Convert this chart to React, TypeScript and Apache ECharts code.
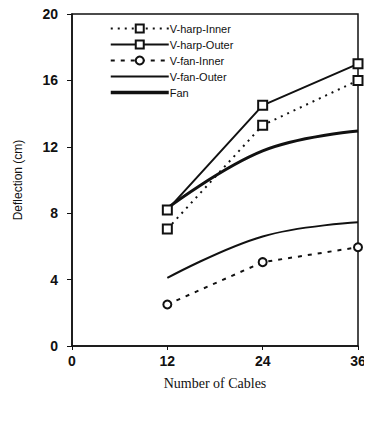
import React, { useEffect, useRef } from "react";
import * as echarts from "echarts";

const cables = [12, 24, 36];
const xTicks = [0, 12, 24, 36];
const yTicks = [0, 4, 8, 12, 16, 20];
const vHarpInner = [7.05, 13.3, 16.0];
const vHarpOuter = [8.2, 14.5, 17.0];
const vFanInner = [2.5, 5.05, 5.95];
const vFanOuter = [4.1, 6.6, 7.45];
const fan = [8.3, 11.75, 12.95];

const pairs = (ys: number[]) => cables.map((c, i) => [c, ys[i]]);

export default function App() {
  const ref = useRef<HTMLDivElement>(null);
  useEffect(() => {
    if (!ref.current) return;
    const chart = echarts.init(ref.current, null, { renderer: "svg" });
    const black = "#111";
    const tickFont = { fontFamily: "Liberation Sans", fontWeight: "bold" as const, fontSize: 14, color: black };
    chart.setOption({
      animation: false,
      backgroundColor: "#fff",
      grid: { left: 72, right: 14, top: 14, bottom: 76, show: true, borderColor: black, borderWidth: 1.5 },
      legend: {
        orient: "vertical",
        left: 104,
        top: 18,
        itemWidth: 58,
        itemHeight: 10,
        itemGap: 5,
        textStyle: { fontFamily: "Liberation Sans", fontSize: 11, color: black, padding: [0, 0, 0, -4] },
        data: [
          { name: "V-harp-Inner" },
          { name: "V-harp-Outer" },
          { name: "V-fan-Inner" },
          { name: "V-fan-Outer", itemStyle: { opacity: 0 } },
          { name: "Fan", itemStyle: { opacity: 0 }, lineStyle: { width: 3.5 } },
        ],
      },
      xAxis: {
        type: "value",
        min: xTicks[0],
        max: xTicks[xTicks.length - 1],
        interval: 12,
        name: "Number of Cables",
        nameLocation: "middle",
        nameGap: 30,
        nameTextStyle: { fontFamily: "Liberation Serif", fontSize: 14, color: black },
        axisLine: { lineStyle: { color: black, width: 1.5 } },
        axisTick: { show: true, length: 4, lineStyle: { color: black } },
        axisLabel: { ...tickFont, margin: 8 },
        splitLine: { show: false },
      },
      yAxis: {
        type: "value",
        min: yTicks[0],
        max: yTicks[yTicks.length - 1],
        interval: 4,
        name: "Deflection (cm)",
        nameLocation: "middle",
        nameGap: 48,
        nameTextStyle: { fontFamily: "Liberation Sans", fontSize: 12, color: black },
        axisLine: { lineStyle: { color: black, width: 1.5 } },
        axisTick: { show: true, length: 5, lineStyle: { color: black } },
        axisLabel: { ...tickFont, margin: 14 },
        splitLine: { show: false },
      },
      series: [
        {
          name: "V-harp-Inner",
          type: "line",
          data: pairs(vHarpInner),
          symbol: "emptyRect",
          symbolSize: 9,
          clip: false,
          color: black,
          lineStyle: { color: black, width: 2, type: [2, 5] },
          itemStyle: { color: black, borderColor: black, borderWidth: 2 },
        },
        {
          name: "V-harp-Outer",
          type: "line",
          data: pairs(vHarpOuter),
          symbol: "emptyRect",
          symbolSize: 9,
          clip: false,
          color: black,
          lineStyle: { color: black, width: 2 },
          itemStyle: { color: black, borderColor: black, borderWidth: 2 },
        },
        {
          name: "V-fan-Inner",
          type: "line",
          data: pairs(vFanInner),
          symbol: "emptyCircle",
          symbolSize: 8,
          clip: false,
          color: black,
          lineStyle: { color: black, width: 2, type: [4, 6] },
          itemStyle: { color: black, borderColor: black, borderWidth: 2 },
        },
        {
          name: "V-fan-Outer",
          type: "line",
          data: pairs(vFanOuter),
          symbol: "none",
          smooth: 0.4,
          clip: false,
          color: black,
          lineStyle: { color: black, width: 2 },
        },
        {
          name: "Fan",
          type: "line",
          data: pairs(fan),
          symbol: "none",
          smooth: 0.4,
          clip: false,
          color: black,
          lineStyle: { color: black, width: 3 },
        },
      ],
    });
    return () => chart.dispose();
  }, []);
  return <div ref={ref} style={{ width: 372, height: 422, marginLeft: -8, marginTop: -8 }} />;
}
